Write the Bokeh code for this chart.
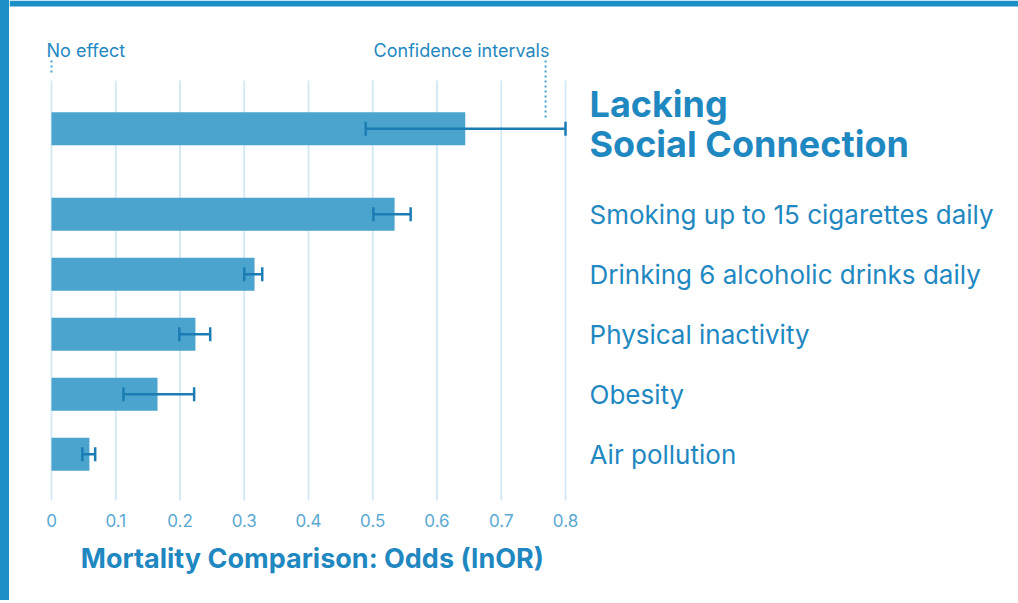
from bokeh.plotting import figure
from bokeh.layouts import row
from bokeh.models import (FactorRange, Range1d, ColumnDataSource, Whisker, TeeHead,
                          BoxAnnotation, Div)
from bokeh.core.properties import value
from bokeh.embed import file_html
from bokeh.resources import INLINE

# ---------------- data ----------------
categories = [
    "Lacking\nSocial Connection",
    "Smoking up to 15 cigarettes daily",
    "Drinking 6 alcoholic drinks daily",
    "Physical inactivity",
    "Obesity",
    "Air pollution",
]
groups = ["headline", "others", "others", "others", "others", "others"]
lnor = [0.644, 0.534, 0.316, 0.224, 0.165, 0.059]
ci_low = [0.489, 0.501, 0.300, 0.199, 0.112, 0.048]
ci_high = [0.800, 0.559, 0.328, 0.247, 0.222, 0.068]
ticks = [0, 0.1, 0.2, 0.3, 0.4, 0.5, 0.6, 0.7, 0.8]
tick_labels = ["0", "0.1", "0.2", "0.3", "0.4", "0.5", "0.6", "0.7", "0.8"]
x_title = "Mortality Comparison: Odds (lnOR)"
note_left = "No effect"
note_right = "Confidence intervals"
note_right_x = 0.769

# ---------------- styles ----------------
FONT = value("Inter")
BAR = "#4aa4cd"
ERR = "#1b7db4"
TXT = "#1f88c1"
TICK = "#5aa9d3"
GRID = "#d3e8f3"
BORDER = "#1b8fc6"

yf = [(g, c) for g, c in zip(groups, categories)]
factors = yf[::-1]

LEFT_BORDER = 9
TOTAL_W = 1018
PX = 642.5  # pixels per x unit
x0, x1 = -(51 - LEFT_BORDER) / PX, 0.8 + (TOTAL_W - 565) / PX
y_range = FactorRange(factors=factors, group_padding=0.425,
                      range_padding=1.64, range_padding_units="absolute")

p = figure(width=TOTAL_W - LEFT_BORDER, height=595, x_range=Range1d(x0, x1), y_range=y_range,
           x_axis_location=None, y_axis_location=None, toolbar_location=None,
           output_backend="svg", title=None, margin=0,
           min_border_left=0, min_border_right=0, min_border_top=0, min_border_bottom=13)
p.outline_line_color = None
p.background_fill_color = "white"
p.border_fill_color = "white"
p.grid.visible = False

src = ColumnDataSource(dict(yf=yf, v=lnor, lo=ci_low, hi=ci_high))

# grid lines
grid_top, grid_bottom = 6.731, -0.272
p.segment(x0=ticks, x1=ticks, y0=[grid_bottom] * len(ticks), y1=[grid_top] * len(ticks),
          line_color=GRID, line_width=1.8)

# bars
p.hbar(y="yf", left=0, right="v", height=0.55, source=src, fill_color=BAR, line_color=None)

# error bars
w = Whisker(source=src, base="yf", lower="lo", upper="hi", dimension="width",
            line_color=ERR, line_width=2.5, level="overlay",
            upper_head=TeeHead(size=14, line_color=ERR, line_width=2.5),
            lower_head=TeeHead(size=14, line_color=ERR, line_width=2.5))
p.add_layout(w)

# category labels
label_x = 0.8374
p.text(x=[label_x], y=[yf[0]], text=[categories[0]], text_font=FONT, text_font_style="bold",
       text_font_size="36px", text_color=TXT, text_baseline="middle", text_line_height=0.92,
       y_offset=-5)
p.text(x=[label_x] * (len(categories) - 1), y=yf[1:], text=categories[1:], text_font=FONT,
       text_font_size="26px", text_color=TXT, text_baseline="middle")

# tick labels
p.text(x=ticks, y=[-0.606] * len(ticks), text=tick_labels, text_font=FONT,
       text_font_size="17px", text_color=TICK, text_align="center", text_baseline="middle")

# axis title
p.text(x=[0.406], y=[-1.240], text=[x_title], text_font=FONT, text_font_style="bold",
       text_font_size="27px", text_color=TXT, text_align="center", text_baseline="middle")

# callouts
p.text(x=[-0.0078], y=[7.231], text=[note_left], text_font=FONT, text_font_size="18px",
       text_color=TXT, text_align="left", text_baseline="middle")
p.text(x=[0.775], y=[7.231], text=[note_right], text_font=FONT, text_font_size="18px",
       text_color=TXT, text_align="right", text_baseline="middle")
p.segment(x0=[0, note_right_x], x1=[0, note_right_x], y0=[7.064, 7.064], y1=[6.848, 6.114],
          line_color="#4aa0cc", line_width=2, line_dash="2 3")

# top frame border
p.add_layout(BoxAnnotation(bottom=7.965, fill_color=BORDER, fill_alpha=1, line_color=None))

# left frame border
left_bar = Div(text="", width=LEFT_BORDER, height=600, margin=0,
               styles={"background-color": BORDER})

layout = row(left_bar, p, spacing=0, margin=0)

open("out.html", "w").write(file_html(layout, INLINE))
